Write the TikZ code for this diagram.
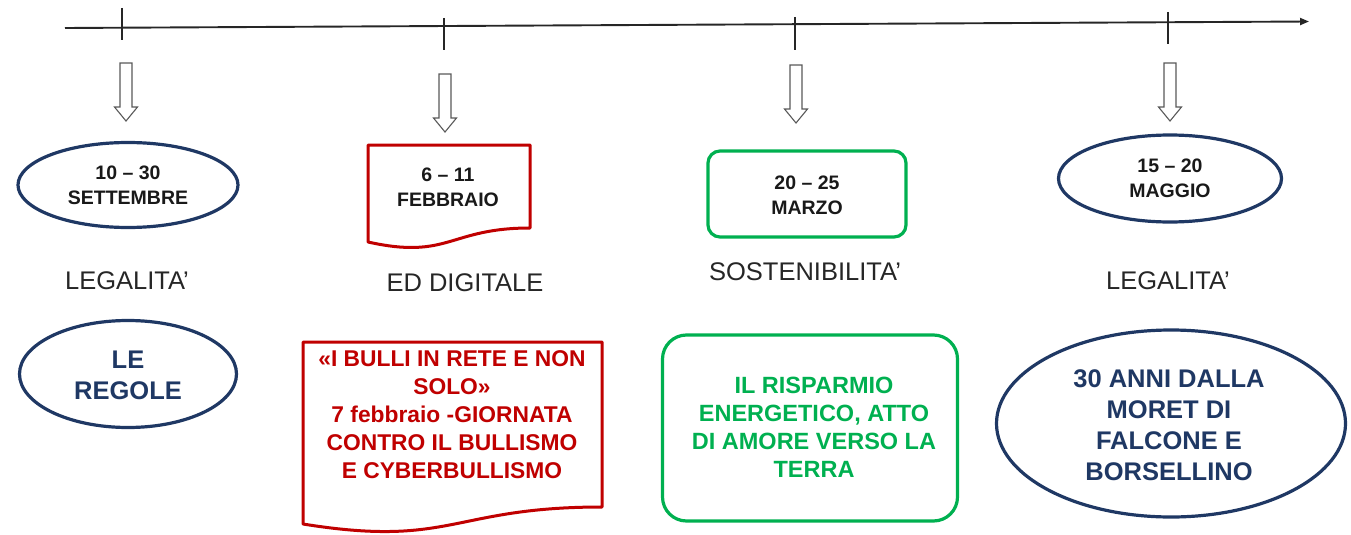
\documentclass[tikz,border=0pt]{standalone}
\usepackage{fontspec}
\setmainfont{Liberation Sans}
\usetikzlibrary{shapes.geometric,arrows.meta}
\definecolor{navy}{RGB}{31,56,100}
\definecolor{dred}{RGB}{192,0,0}
\definecolor{dgreen}{RGB}{0,176,80}
\newcommand\blkarrow[4]{% name, x, ytop, ybot
  \draw[blockarrow] ({#2-6},#3) -- ({#2+6},#3) -- ({#2+6},{#4-14}) -- ({#2+11.5},{#4-14})
    -- (#2,#4) coordinate (#1) -- ({#2-11.5},{#4-14}) -- ({#2-6},{#4-14}) -- cycle;}
\begin{document}
\begin{tikzpicture}[x=1pt,y=-1pt,
  axis/.style={line width=1.9pt, draw=black!85},
  tick/.style={line width=1.1pt, draw=black!85},
  blockarrow/.style={draw=black!65, fill=white, line width=1.1pt},
  datetxt/.style={font=\bfseries\fontsize{19.5}{25}\selectfont, align=center, text=black!90},
  lbl/.style={font=\fontsize{25.5}{28}\selectfont, text=black!85},
  navyellipse/.style={ellipse, draw=navy, line width=3.2pt, fill=white, inner sep=0pt},
  greenbox/.style={rectangle, rounded corners=12pt, draw=dgreen, line width=3.2pt, inner sep=0pt},
  redline/.style={draw=dred, line width=3pt, line join=round},
  navytxt/.style={font=\bfseries\fontsize{25.5}{31}\selectfont, align=center, text=navy},
  redtxt/.style={font=\bfseries\fontsize{22.8}{28}\selectfont, align=center, text=dred},
  greentxt/.style={font=\bfseries\fontsize{23.5}{28}\selectfont, align=center, text=dgreen},
]
\useasboundingbox (0,0) rectangle (1351,535);

% timeline axis
\coordinate (axL) at (65,28);
\coordinate (axR) at (1309,21.5);
\draw[axis,-{Triangle[length=9pt,width=7pt]}] (axL) -- (axR);

% ticks
\coordinate (t1a) at (122,8);   \coordinate (t1b) at (122,40);
\coordinate (t2a) at (444,18);  \coordinate (t2b) at (444,50);
\coordinate (t3a) at (795,17);  \coordinate (t3b) at (795,50);
\coordinate (t4a) at (1168,12); \coordinate (t4b) at (1168,44);
\draw[tick] (t1a) -- (t1b);
\draw[tick] (t2a) -- (t2b);
\draw[tick] (t3a) -- (t3b);
\draw[tick] (t4a) -- (t4b);

% block arrows
\blkarrow{a1}{126}{63}{121}
\blkarrow{a2}{445}{74}{132}
\blkarrow{a3}{796}{65}{123}
\blkarrow{a4}{1170}{63}{121}

% date shapes
\node[navyellipse, minimum width=220pt, minimum height=85pt] (d1) at (128,185) {};
\node[datetxt] (d1t) at (128,185) {10 – 30\\SETTEMBRE};

\draw[redline, fill=white] (368,145) -- (530,145) -- (530,228)
  .. controls (449,228) and (449,260) .. (368,242) -- cycle;
\coordinate (d2) at (449,190);
\node[datetxt] (d2t) at (448,187) {6 – 11\\FEBBRAIO};

\node[greenbox, minimum width=198pt, minimum height=86pt] (d3) at (807,194) {};
\node[datetxt] (d3t) at (807,195) {20 – 25\\MARZO};

\node[navyellipse, minimum width=223pt, minimum height=87pt] (d4) at (1170,178.5) {};
\node[datetxt] (d4t) at (1170,178.5) {15 – 20\\MAGGIO};

% theme labels
\node[lbl] (l1) at (127,281) {LEGALITA'};
\node[lbl] (l2) at (465,283) {ED DIGITALE};
\node[lbl] (l3) at (805,272) {SOSTENIBILITA'};
\node[lbl] (l4) at (1168,281) {LEGALITA'};

% bottom shapes
\node[navyellipse, minimum width=217pt, minimum height=107pt] (b1) at (128,374) {};
\node[navytxt] (b1t) at (128,375) {LE\\REGOLE};

\draw[redline, fill=white] (303,342) -- (602,342) -- (602,507)
  .. controls (452,507) and (452,548) .. (303,524) -- cycle;
\node[redtxt] (b2t) at (452,415) {«I BULLI IN RETE E NON\\SOLO»\\7 febbraio -GIORNATA\\CONTRO IL BULLISMO\\E CYBERBULLISMO};

\node[greenbox, rounded corners=24pt, minimum width=295pt, minimum height=186pt] (b3) at (810,428) {};
\node[greentxt] (b3t) at (814,427.5) {IL RISPARMIO\\ENERGETICO, ATTO\\DI AMORE VERSO LA\\TERRA};

\node[navyellipse, minimum width=349pt, minimum height=187pt] (b4) at (1171,423.5) {};
\node[navytxt] (b4t) at (1169,425) {30 ANNI DALLA\\MORET DI\\FALCONE E\\BORSELLINO};
\end{tikzpicture}
\end{document}
